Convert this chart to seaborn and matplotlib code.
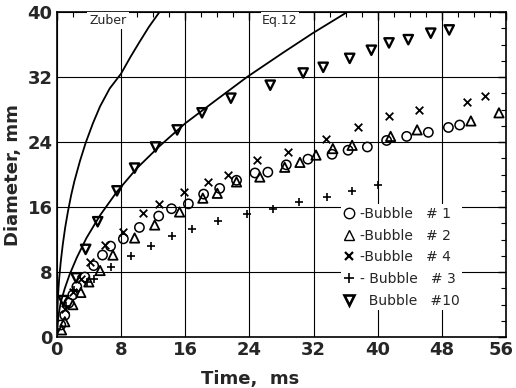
import matplotlib
matplotlib.use("Agg")
import matplotlib.pyplot as plt
import matplotlib.transforms as mtransforms
import seaborn as sns
from matplotlib.ticker import MultipleLocator
from matplotlib.lines import Line2D

# ---- data ----
b1_t = [0.5, 1.0, 1.5, 2.0, 2.5, 3.5, 4.6, 5.7, 6.7, 8.3, 10.3, 12.7, 14.3, 16.4, 18.3, 20.3,
        22.4, 24.7, 26.3, 28.6, 31.3, 34.3, 36.3, 38.7, 41.1, 43.6, 46.3, 48.8, 50.2]
b1_d = [1.5, 2.7, 4.2, 5.2, 6.2, 7.4, 8.8, 10.1, 11.2, 12.1, 13.5, 14.9, 15.8, 16.4, 17.6, 18.3,
        19.3, 20.2, 20.3, 21.2, 21.9, 22.5, 23.0, 23.4, 24.2, 24.7, 25.2, 25.8, 26.1]

b2_t = [0.6, 1.0, 2.0, 3.0, 4.0, 5.4, 7.0, 9.7, 12.2, 15.3, 18.2, 20.0, 22.4, 25.3, 28.4, 30.3,
        32.3, 34.4, 36.8, 41.6, 44.9, 51.6, 55.1]
b2_d = [0.9, 1.9, 4.0, 5.5, 6.8, 8.2, 10.1, 12.2, 13.8, 15.4, 17.1, 17.7, 19.1, 19.7, 20.9, 21.5,
        22.4, 23.2, 23.6, 24.7, 25.5, 26.6, 27.6]

b4_t = [1.0, 2.0, 3.0, 4.1, 6.0, 8.3, 10.8, 12.8, 15.8, 18.8, 21.3, 24.9, 28.8, 33.5, 37.5,
        41.4, 45.1, 51.1, 53.4]
b4_d = [3.5, 5.5, 7.2, 9.2, 11.3, 13.0, 15.3, 16.4, 17.8, 19.1, 20.0, 21.8, 22.8, 24.4, 25.9,
        27.2, 28.0, 28.9, 29.7]

b3_t = [1.2, 2.2, 3.8, 4.7, 6.8, 9.2, 11.8, 14.4, 16.9, 20.1, 23.7, 26.9, 30.2, 33.7, 36.8, 40.0]
b3_d = [3.8, 5.8, 6.8, 7.2, 8.6, 10.0, 11.2, 12.4, 13.3, 14.3, 15.1, 15.8, 16.6, 17.2, 18.0, 18.7]

b10_t = [0.8, 2.4, 3.6, 5.1, 7.5, 9.7, 12.3, 15.0, 18.1, 21.7, 26.6, 30.7, 33.2, 36.5, 39.2,
         41.4, 43.8, 46.6, 48.9]
b10_d = [4.5, 7.3, 10.8, 14.2, 18.0, 20.8, 23.4, 25.5, 27.6, 29.4, 31.0, 32.5, 33.2, 34.3, 35.3,
         36.2, 36.6, 37.4, 37.8]

zuber_t = [0.0, 0.05, 0.15, 0.3, 0.5, 0.75, 1.05, 1.4, 1.8, 2.2, 2.9, 3.6, 4.5, 5.4, 6.6,
           8.0, 9.2, 10.3, 11.5, 12.8]
zuber_d = [0.0, 2.6, 5.0, 7.2, 9.3, 11.4, 13.5, 15.5, 17.5, 19.2, 21.7, 23.9, 26.3, 28.4, 30.6,
           32.4, 34.5, 36.3, 38.2, 40.0]

eq12_t = [0.0, 0.2, 0.5, 1.0, 1.6, 2.5, 3.7, 5.4, 7.5, 10.0, 12.8, 16.0, 19.9, 23.7, 28.2,
          31.9, 36.2]
eq12_d = [0.0, 2.6, 4.3, 6.0, 7.7, 9.8, 12.2, 15.0, 17.9, 20.8, 23.5, 26.3, 29.2, 32.0, 35.0,
          37.4, 40.0]

x_ticks = [0, 8, 16, 24, 32, 40, 48, 56]
y_ticks = [0, 8, 16, 24, 32, 40]
legend_labels = ["-Bubble   # 1", "-Bubble   # 2", "-Bubble   # 4", "- Bubble   # 3",
                 "  Bubble   #10"]

# ---- figure ----
sns.set_style("white")
plt.rcParams['font.family'] = ['DejaVu Sans']
fig = plt.figure(figsize=(5.16, 3.88), dpi=100)
ax = fig.add_axes([0.110, 0.131, 0.871, 0.838])

ax.set_xlim(0, 56)
ax.set_ylim(0, 40)
ax.set_xticks(x_ticks)
ax.set_yticks(y_ticks)
ax.grid(True, color="black", linewidth=0.8)
ax.set_axisbelow(True)

# theoretical curves
sns.lineplot(x=zuber_t, y=zuber_d, ax=ax, color="black", lw=1.3, sort=False, estimator=None)
sns.lineplot(x=eq12_t, y=eq12_d, ax=ax, color="black", lw=1.3, sort=False, estimator=None)

ms = 45
sns.scatterplot(x=b1_t, y=b1_d, ax=ax, marker="o", s=ms, facecolor="none",
                edgecolor="black", linewidth=1.1, zorder=3)
sns.scatterplot(x=b2_t, y=b2_d, ax=ax, marker="^", s=ms, facecolor="none",
                edgecolor="black", linewidth=1.3, zorder=3)
sns.scatterplot(x=b4_t, y=b4_d, ax=ax, marker="x", s=30, color="black",
                linewidth=1.3, zorder=3)
sns.scatterplot(x=b3_t, y=b3_d, ax=ax, marker="+", s=35, color="black",
                linewidth=1.2, zorder=3)
sns.scatterplot(x=b10_t, y=b10_d, ax=ax, marker="v", s=ms, facecolor="none",
                edgecolor="black", linewidth=1.7, zorder=3)

# curve labels
ax.text(6.4, 39.0, "Zuber", ha="center", va="center", fontsize=9,
        bbox=dict(facecolor="white", edgecolor="none", pad=1.5), zorder=4)
ax.text(27.8, 39.0, "Eq.12", ha="center", va="center", fontsize=9,
        bbox=dict(facecolor="white", edgecolor="none", pad=1.0), zorder=4)

# legend
handles = [
    Line2D([], [], marker="o", ls="none", mfc="none", mec="black", ms=7.5, mew=1.0),
    Line2D([], [], marker="^", ls="none", mfc="none", mec="black", ms=7.5, mew=1.0),
    Line2D([], [], marker="x", ls="none", color="black", ms=6, mew=1.6),
    Line2D([], [], marker="+", ls="none", color="black", ms=6.5, mew=1.2),
    Line2D([], [], marker="v", ls="none", mfc="none", mec="black", ms=7.5, mew=1.9),
]
leg = ax.legend(handles, legend_labels, loc="upper left", bbox_to_anchor=(0.617, 0.43),
                frameon=True, framealpha=1, edgecolor="none", fontsize=10,
                handlelength=0.8, handletextpad=0.35, labelspacing=0.55, borderpad=0.2)

# ticks
ax.xaxis.set_minor_locator(MultipleLocator(2))
ax.yaxis.set_minor_locator(MultipleLocator(2))
ax.tick_params(which="both", direction="in", top=True, right=True, color="black")
ax.tick_params(which="major", length=6, width=1, labelsize=13, pad=3)
ax.tick_params(which="minor", length=3.5, width=0.8)
for lbl in ax.get_xticklabels() + ax.get_yticklabels():
    lbl.set_fontweight("bold")
# keep the last x tick label inside the figure, as in the reference
last = ax.get_xticklabels()[-1]
last.set_transform(last.get_transform() +
                   mtransforms.ScaledTranslation(-5 / 100, 0, fig.dpi_scale_trans))
for sp in ax.spines.values():
    sp.set_color("black")
    sp.set_linewidth(1.2)

ax.set_xlabel("Time,  ms", fontsize=13, fontweight="bold", labelpad=2)
ax.xaxis.set_label_coords(0.43, -0.10)
ax.set_ylabel("Diameter, mm", fontsize=13, fontweight="bold", labelpad=4)

fig.savefig("out.png", dpi=100)
